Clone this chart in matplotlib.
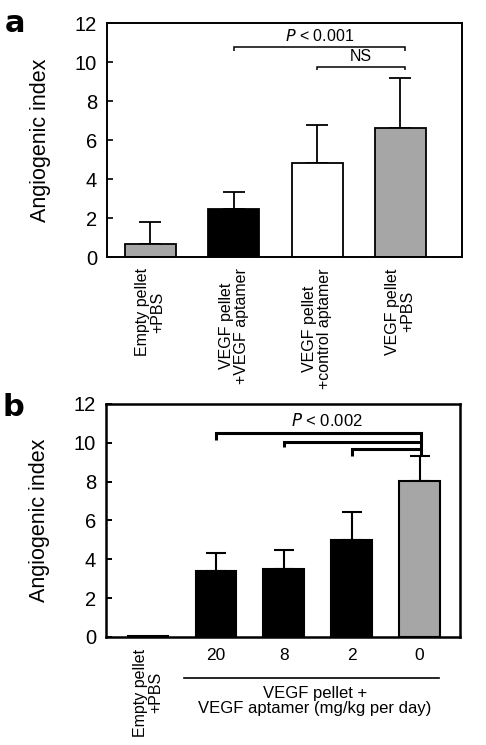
import matplotlib
matplotlib.use("Agg")
import matplotlib.pyplot as plt

plt.rcParams['font.family'] = ['Liberation Sans', 'DejaVu Sans']

# Panel a data
a_labels = ["Empty pellet\n+PBS", "VEGF pellet\n+VEGF aptamer",
            "VEGF pellet\n+control aptamer", "VEGF pellet\n+PBS"]
a_values = [0.65, 2.45, 4.8, 6.6]
a_errors = [1.15, 0.9, 1.95, 2.6]
a_colors = ["#a6a6a6", "#000000", "#ffffff", "#a6a6a6"]

# Panel b data
b_labels = ["", "20", "8", "2", "0"]
b_values = [0.05, 3.4, 3.5, 5.0, 8.05]
b_errors = [0.0, 0.9, 1.0, 1.45, 1.25]
b_colors = ["#a6a6a6", "#000000", "#000000", "#000000", "#a6a6a6"]

yticks = [0, 2, 4, 6, 8, 10, 12]

fig = plt.figure(figsize=(4.86, 7.45), dpi=100)

# ---------------- Panel a ----------------
axa = fig.add_axes([0.220, 0.655, 0.731, 0.314])
xa = list(range(len(a_values)))
axa.bar(xa, a_values, width=0.61, color=a_colors, edgecolor="black", linewidth=1.3, zorder=2)
axa.errorbar(xa, a_values, yerr=[[0]*len(a_errors), a_errors], fmt="none",
             ecolor="black", elinewidth=1.3, capsize=8, capthick=1.3, zorder=1)
axa.set_xlim(-0.52, 3.74)
axa.set_ylim(0, 12)
axa.set_yticks(yticks)
axa.set_xticks(xa)
axa.set_xticklabels(a_labels, rotation=90, ha="center", va="top", fontsize=11.5,
                    multialignment="center", linespacing=1.0)
axa.tick_params(axis="y", direction="in", length=4, width=1.2, labelsize=14.5, pad=7)
axa.tick_params(axis="x", length=0, pad=8)
for s in axa.spines.values():
    s.set_linewidth(1.4)
axa.set_ylabel("Angiogenic index", fontsize=15.5, labelpad=17)

# brackets a
def bracket(ax, x1, x2, y, drop_l, drop_r, lw):
    ax.plot([x1, x1, x2, x2], [y - drop_l, y, y, y - drop_r], color="black",
            linewidth=lw, solid_capstyle="butt", solid_joinstyle="miter", clip_on=False)

bracket(axa, xa[1], xa[3] + 0.06, 10.78, 0.2, 0.2, 1.1)
bracket(axa, xa[2], xa[3] + 0.06, 9.76, 0.18, 0.18, 1.1)
axa.text(0.5 * (xa[1] + xa[3] + 0.06), 10.95, r"$\it{P}$ < 0.001", ha="center", va="bottom", fontsize=11.5)
axa.text(0.5 * (xa[2] + xa[3] + 0.06), 9.9, "NS", ha="center", va="bottom", fontsize=11.5)

fig.text(0.010, 1 - 32 / 745, "a", fontsize=22, fontweight="bold", ha="left", va="baseline",
         family="DejaVu Sans")

# ---------------- Panel b ----------------
axb = fig.add_axes([0.218, 0.145, 0.729, 0.313])
xb = list(range(len(b_values)))
axb.bar(xb, b_values, width=0.6, color=b_colors, edgecolor="black", linewidth=1.5, zorder=2)
err_x = xb[1:]
err_v = b_values[1:]
err_e = b_errors[1:]
axb.errorbar(err_x, err_v, yerr=[[0]*len(err_e), err_e], fmt="none",
             ecolor="black", elinewidth=1.5, capsize=7, capthick=1.5, zorder=1)
axb.set_xlim(-0.62, 4.6)
axb.set_ylim(0, 12)
axb.set_yticks(yticks)
axb.set_xticks(xb)
axb.set_xticklabels(b_labels, fontsize=12.5)
axb.tick_params(axis="y", direction="in", length=4, width=1.4, labelsize=14.5, pad=7)
axb.tick_params(axis="x", length=0, pad=8)
for s in axb.spines.values():
    s.set_linewidth(1.8)
axb.set_ylabel("Angiogenic index", fontsize=15.5, labelpad=17)

# brackets b
xr = xb[4] + 0.02
axb.plot([xb[1], xb[1], xr, xr], [10.15, 10.5, 10.5, 9.3], color="black", linewidth=2.2,
         solid_joinstyle="miter", solid_capstyle="butt")
axb.plot([xb[2], xb[2], xr], [9.78, 10.05, 10.05], color="black", linewidth=2.2,
         solid_joinstyle="miter", solid_capstyle="butt")
axb.plot([xb[3], xb[3], xr], [9.3, 9.65, 9.65], color="black", linewidth=2.2,
         solid_joinstyle="miter", solid_capstyle="butt")
axb.text(0.5 * (xb[1] + xr) + 0.12, 10.7, r"$\it{P}$ < 0.002", ha="center", va="bottom", fontsize=12)

# rotated label under first bar
axb.text(xb[0], -0.6, "Empty pellet\n+PBS", rotation=90, ha="center", va="top",
         fontsize=11.5, multialignment="center", linespacing=1.0)

# group line and label
axb.plot([xb[1] - 0.47, xb[4] + 0.28], [-2.1, -2.1], color="black", linewidth=1.2, clip_on=False)
axb.text(2.46, -2.5, "VEGF pellet +\nVEGF aptamer (mg/kg per day)",
         ha="center", va="top", fontsize=12, linespacing=1.05)

fig.text(0.006, 1 - 416 / 745, "b", fontsize=22, fontweight="bold", ha="left", va="baseline",
         family="DejaVu Sans")

fig.savefig("out.png", dpi=100)
